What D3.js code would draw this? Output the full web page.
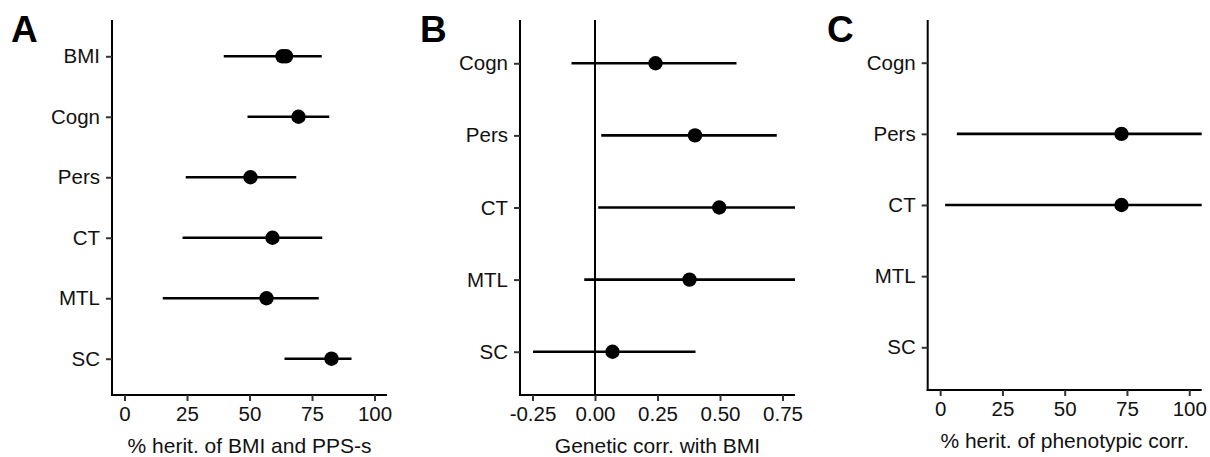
<!DOCTYPE html>
<html>
<head>
<meta charset="utf-8">
<script src="https://cdn.jsdelivr.net/npm/d3@7"></script>
<style>
  body { margin: 0; background: #fff; }
  svg { display: block; font-family: "Liberation Sans", Arial, sans-serif; }
  .tick text { fill: #111; }
</style>
</head>
<body>
<div id="chart"></div>
<script>
var svgWidth = 1210;
var svgHeight = 457;

// Panel A: % heritability of BMI and PPS-s
var aCats = ["BMI", "Cogn", "Pers", "CT", "MTL", "SC"];
var aEst = [63.2, 69.6, 50.4, 59.2, 56.8, 82.8];
var aLo = [39.7, 49.2, 24.5, 23.2, 15.3, 64.0];
var aHi = [78.9, 81.9, 68.7, 79.1, 77.7, 90.8];
// BMI has a second, overlapping estimate
var aEstExtra = [64.6, null, null, null, null, null];
var aTicks = [0, 25, 50, 75, 100];

// Panel B: genetic correlation with BMI
var bCats = ["Cogn", "Pers", "CT", "MTL", "SC"];
var bEst = [0.242, 0.400, 0.497, 0.378, 0.070];
var bLo = [-0.094, 0.025, 0.013, -0.043, -0.248];
var bHi = [0.566, 0.727, 0.850, 0.850, 0.402];
var bTicks = [-0.25, 0, 0.25, 0.5, 0.75];

// Panel C: % heritability of phenotypic correlation
var cCats = ["Cogn", "Pers", "CT", "MTL", "SC"];
var cEst = [null, 72.8, 72.8, null, null];
var cLo = [null, 6.7, 2.0, null, null];
var cHi = [null, 115, 115, null, null];
var cTicks = [0, 25, 50, 75, 100];

var svg = d3.select("#chart")
  .append("svg")
  .attr("width", svgWidth)
  .attr("height", svgHeight);

function drawPanel(p) {
  var x = d3.scaleLinear().domain(p.xDomain).range([p.left, p.right]);
  var y = d3.scalePoint().domain(p.cats).range([p.top, p.bottom]).padding(0.6);

  var g = svg.append("g");

  // clip so intervals running past the axis limits get cut off
  g.append("clipPath")
    .attr("id", "clip-" + p.id)
    .append("rect")
    .attr("x", p.left)
    .attr("y", p.top)
    .attr("width", p.right - p.left)
    .attr("height", p.bottom - p.top);

  var plot = g.append("g").attr("clip-path", "url(#clip-" + p.id + ")");

  if (p.vline !== undefined) {
    plot.append("line")
      .attr("x1", x(p.vline)).attr("x2", x(p.vline))
      .attr("y1", p.top).attr("y2", p.bottom)
      .attr("stroke", "#000")
      .attr("stroke-width", 2);
  }

  var rows = p.cats.map(function(c, i) {
    return { cat: c, est: p.est[i], lo: p.lo[i], hi: p.hi[i], extra: p.extra ? p.extra[i] : null };
  }).filter(function(d) { return d.est !== null; });

  plot.selectAll("line.ci")
    .data(rows)
    .enter()
    .append("line")
    .attr("class", "ci")
    .attr("x1", d => x(d.lo))
    .attr("x2", d => x(d.hi))
    .attr("y1", d => y(d.cat))
    .attr("y2", d => y(d.cat))
    .attr("stroke", "#000")
    .attr("stroke-width", 2.6);

  plot.selectAll("circle.est")
    .data(rows)
    .enter()
    .append("circle")
    .attr("class", "est")
    .attr("cx", d => x(d.est))
    .attr("cy", d => y(d.cat))
    .attr("r", 7.2)
    .attr("fill", "#000");

  plot.selectAll("circle.extra")
    .data(rows.filter(d => d.extra !== null))
    .enter()
    .append("circle")
    .attr("class", "extra")
    .attr("cx", d => x(d.extra))
    .attr("cy", d => y(d.cat))
    .attr("r", 7.2)
    .attr("fill", "#000");

  // axes
  var bottomAxis = d3.axisBottom(x)
    .tickValues(p.ticks)
    .tickFormat(p.fmt)
    .tickSize(6)
    .tickSizeOuter(0)
    .tickPadding(5);

  var leftAxis = d3.axisLeft(y)
    .tickSize(6)
    .tickSizeOuter(0)
    .tickPadding(6);

  var xAx = g.append("g")
    .attr("transform", `translate(0, ${p.bottom})`)
    .call(bottomAxis);

  var yAx = g.append("g")
    .attr("transform", `translate(${p.left}, 0)`)
    .call(leftAxis);

  [xAx, yAx].forEach(function(ax) {
    ax.select(".domain").attr("stroke", "#000").attr("stroke-width", 2);
    ax.selectAll(".tick line").attr("stroke", "#333").attr("stroke-width", 2);
    ax.selectAll(".tick text")
      .attr("font-size", "20.5px")
      .attr("font-family", "Liberation Sans, Arial, sans-serif");
  });
  xAx.select(".domain").attr("d", `M${p.left - 1},0H${p.right}`);
  yAx.select(".domain").attr("d", `M0,${p.top}V${p.bottom + 1}`);

  // axis title
  g.append("text")
    .attr("x", (p.left + p.right) / 2)
    .attr("y", p.titleY)
    .attr("text-anchor", "middle")
    .attr("font-size", "21px")
    .attr("fill", "#111")
    .text(p.title);

  // panel letter
  g.append("text")
    .attr("x", p.letterX)
    .attr("y", 42)
    .attr("font-size", "37px")
    .attr("font-weight", "bold")
    .attr("fill", "#000")
    .text(p.letter);
}

drawPanel({
  id: "a", letter: "A", letterX: 11,
  left: 112, right: 387, top: 20, bottom: 395,
  xDomain: [-5, 105], ticks: aTicks, fmt: d3.format("d"),
  cats: aCats, est: aEst, lo: aLo, hi: aHi, extra: aEstExtra,
  title: "% herit. of BMI and PPS-s", titleY: 453
});

drawPanel({
  id: "b", letter: "B", letterX: 420,
  left: 520, right: 795, top: 20, bottom: 395,
  xDomain: [-0.3, 0.8], ticks: bTicks, fmt: d => d.toFixed(2),
  cats: bCats, est: bEst, lo: bLo, hi: bHi, vline: 0,
  title: "Genetic corr. with BMI", titleY: 453
});

drawPanel({
  id: "c", letter: "C", letterX: 827,
  left: 927.7, right: 1201.7, top: 20, bottom: 390,
  xDomain: [-5, 105], ticks: cTicks, fmt: d3.format("d"),
  cats: cCats, est: cEst, lo: cLo, hi: cHi,
  title: "% herit. of phenotypic corr.", titleY: 448
});
</script>
</body>
</html>
